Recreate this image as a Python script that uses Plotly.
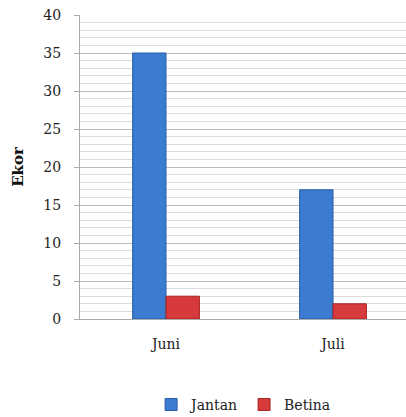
import plotly.graph_objects as go

categories = ["Juni", "Juli"]
jantan = [35, 17]
betina = [3, 2]
y_ticks = [0, 5, 10, 15, 20, 25, 30, 35, 40]

serif = "DejaVu Serif, Liberation Serif, serif"

fig = go.Figure()
fig.add_trace(go.Bar(
    x=categories, y=jantan, name="Jantan",
    marker=dict(color="#3B7BD0", line=dict(color="#2A5EA8", width=1)),
))
fig.add_trace(go.Bar(
    x=categories, y=betina, name="Betina",
    marker=dict(color="#D63A3A", line=dict(color="#A52525", width=1)),
))

fig.update_layout(
    width=406, height=417,
    margin=dict(l=80, r=0, t=15, b=98),
    paper_bgcolor="white", plot_bgcolor="white",
    barmode="group", bargap=0.6, bargroupgap=0,
    font=dict(family=serif, size=14, color="#222"),
    showlegend=True,
    legend=dict(orientation="h", x=0.6, xanchor="center", xref="container",
                y=0.029, yanchor="middle", yref="container",
                font=dict(family=serif, size=14, color="#222"),
                itemwidth=30, traceorder="normal"),
)
fig.update_xaxes(
    range=[-0.515, 1.437],
    showgrid=False, showline=True, linecolor="#aaaaaa", linewidth=1,
    ticks="", tickfont=dict(family=serif, size=14, color="#222"),
    ticklabelstandoff=12, automargin=False,
    fixedrange=True,
)
fig.update_yaxes(
    range=[0, 40], tickvals=y_ticks,
    showgrid=True, gridcolor="#bdbdbd", gridwidth=1,
    minor=dict(dtick=1, showgrid=True, gridcolor="#dcdcdc", gridwidth=1),
    showline=True, linecolor="#aaaaaa", linewidth=1,
    ticks="outside", ticklen=5, tickcolor="#aaaaaa",
    ticklabelstandoff=10, automargin=False,
    tickfont=dict(family=serif, size=14, color="#222"),
    title=dict(text="<b>Ekor</b>", font=dict(family=serif, size=15, color="#111"), standoff=16),
    zeroline=False,
)
fig.write_html("out.html")
